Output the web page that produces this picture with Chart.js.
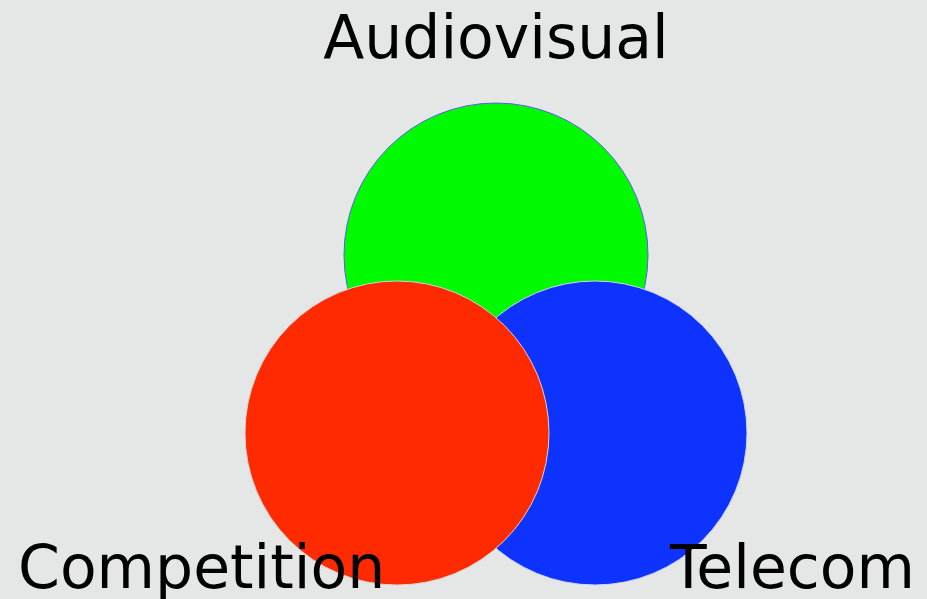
<!DOCTYPE html>
<html>
<head>
<meta charset="utf-8">
<script src="https://cdn.jsdelivr.net/npm/chart.js@4/dist/chart.umd.min.js"></script>
<style>
  html, body { margin: 0; padding: 0; background: #e5e7e7; }
  #wrap { width: 927px; height: 599px; position: relative; }
</style>
</head>
<body>
<div id="wrap"><canvas id="venn"></canvas></div>
<script>
// Venn sets, drawn in this order (last one ends on top)
const setNames = ['Audiovisual', 'Telecom', 'Competition'];
const setX = [496, 595, 397];
const setY = [255, 433, 433];
const setR = [152, 152, 152];
const setColors = ['#00fa00', '#0f33ff', '#ff2a00'];
const setBorders = ['#5b5bef', '#d0d4ee', '#d8d0cc'];

// where each set's name goes
const labelAlign = ['center', 'right', 'left'];

const points = setNames.map((name, i) => ({ x: setX[i], y: setY[i], r: setR[i] }));

// Function to draw the set names as plain canvas text
const vennLabels = {
  id: 'vennLabels',
  afterDraw(chart) {
    const ctx = chart.ctx;
    const area = chart.chartArea;
    ctx.save();
    ctx.fillStyle = '#000';
    ctx.font = '60px "DejaVu Sans"';
    ctx.textBaseline = 'alphabetic';
    setNames.forEach((name, i) => {
      ctx.textAlign = labelAlign[i];
      if (labelAlign[i] === 'center') {
        ctx.fillText(name, chart.scales.x.getPixelForValue(setX[i]), area.top + 58);
      } else if (labelAlign[i] === 'left') {
        ctx.fillText(name, area.left + 18, area.bottom - 11);
      } else {
        ctx.fillText(name, area.right - 12, area.bottom - 11);
      }
    });
    ctx.restore();
  }
};

new Chart(document.getElementById('venn'), {
  type: 'bubble',
  data: {
    datasets: [{
      data: points,
      backgroundColor: setColors,
      borderColor: setBorders,
      borderWidth: 1,
      hoverBorderWidth: 1,
      clip: false
    }]
  },
  options: {
    responsive: true,
    maintainAspectRatio: false,
    animation: false,
    layout: { padding: 0, autoPadding: false },
    plugins: {
      legend: { display: false },
      tooltip: { enabled: false }
    },
    scales: {
      x: { type: 'linear', min: 0, max: 927, display: false },
      y: { type: 'linear', min: 0, max: 599, reverse: true, display: false }
    }
  },
  plugins: [vennLabels]
});
</script>
</body>
</html>
